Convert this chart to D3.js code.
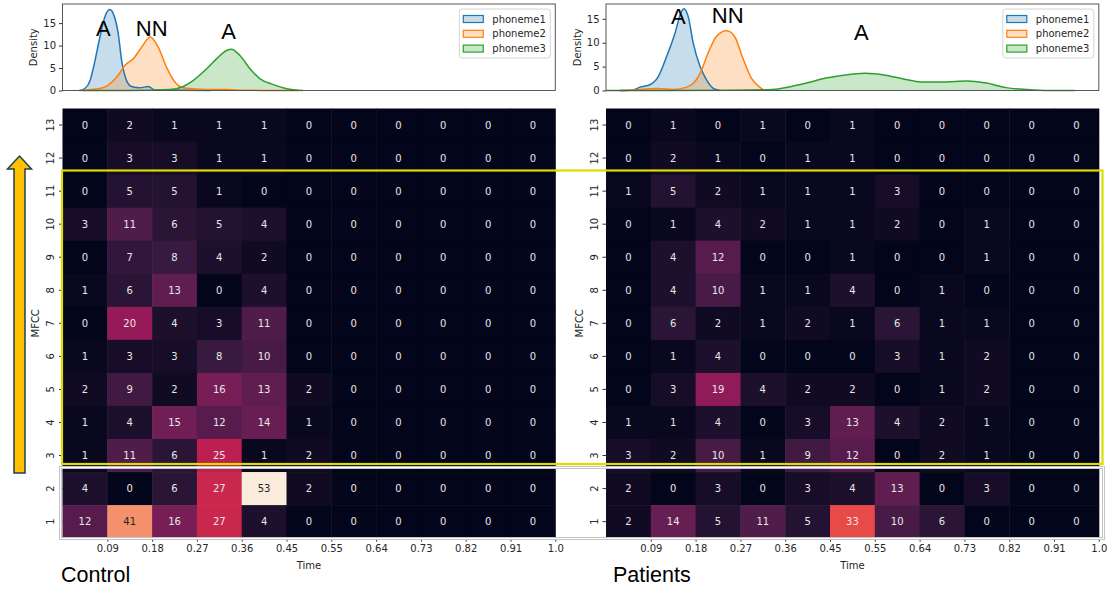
<!DOCTYPE html>
<html>
<head>
<meta charset="utf-8">
<script src="https://cdnjs.cloudflare.com/ajax/libs/d3/7.8.5/d3.min.js"></script>
<style>
  body { margin: 0; background: #fff; }
  svg text { font-family: "DejaVu Sans", sans-serif; }
</style>
</head>
<body>
<div id="container"></div>
<script>
/* DATA */
const mfccLabels = [13, 12, 11, 10, 9, 8, 7, 6, 5, 4, 3, 2, 1]
const timeLabels = ["0.09", "0.18", "0.27", "0.36", "0.45", "0.55", "0.64", "0.73", "0.82", "0.91", "1.0"]
const phonemes = ["phoneme1", "phoneme2", "phoneme3"]
const densityTicks = [0, 5, 10, 15]

// rows top (13) to bottom (1)
const controlCounts = [
    [0, 2, 1, 1, 1, 0, 0, 0, 0, 0, 0],
    [0, 3, 3, 1, 1, 0, 0, 0, 0, 0, 0],
    [0, 5, 5, 1, 0, 0, 0, 0, 0, 0, 0],
    [3, 11, 6, 5, 4, 0, 0, 0, 0, 0, 0],
    [0, 7, 8, 4, 2, 0, 0, 0, 0, 0, 0],
    [1, 6, 13, 0, 4, 0, 0, 0, 0, 0, 0],
    [0, 20, 4, 3, 11, 0, 0, 0, 0, 0, 0],
    [1, 3, 3, 8, 10, 0, 0, 0, 0, 0, 0],
    [2, 9, 2, 16, 13, 2, 0, 0, 0, 0, 0],
    [1, 4, 15, 12, 14, 1, 0, 0, 0, 0, 0],
    [1, 11, 6, 25, 1, 2, 0, 0, 0, 0, 0],
    [4, 0, 6, 27, 53, 2, 0, 0, 0, 0, 0],
    [12, 41, 16, 27, 4, 0, 0, 0, 0, 0, 0]
]
const patientCounts = [
    [0, 1, 0, 1, 0, 1, 0, 0, 0, 0, 0],
    [0, 2, 1, 0, 1, 1, 0, 0, 0, 0, 0],
    [1, 5, 2, 1, 1, 1, 3, 0, 0, 0, 0],
    [0, 1, 4, 2, 1, 1, 2, 0, 1, 0, 0],
    [0, 4, 12, 0, 0, 1, 0, 0, 1, 0, 0],
    [0, 4, 10, 1, 1, 4, 0, 1, 0, 0, 0],
    [0, 6, 2, 1, 2, 1, 6, 1, 1, 0, 0],
    [0, 1, 4, 0, 0, 0, 3, 1, 2, 0, 0],
    [0, 3, 19, 4, 2, 2, 0, 1, 2, 0, 0],
    [1, 1, 4, 0, 3, 13, 4, 2, 1, 0, 0],
    [3, 2, 10, 1, 9, 12, 0, 2, 1, 0, 0],
    [2, 0, 3, 0, 3, 4, 13, 0, 3, 0, 0],
    [2, 14, 5, 11, 5, 33, 10, 6, 0, 0, 0]
]

// density curves: [time, density]
const controlPh1 = [[0.034, 0], [0.046, 0.5], [0.056, 2.2], [0.063, 5.2], [0.076, 11.9], [0.086, 16.4], [0.096, 18.0],
    [0.103, 17.1], [0.113, 12.7], [0.120, 6.7], [0.130, 2.2], [0.140, 0.9], [0.157, 0.6], [0.174, 0.9], [0.188, 0.1], [0.30, 0]]
const controlPh2 = [[0.036, 0], [0.049, 0.1], [0.082, 0.6], [0.110, 3.0], [0.127, 5.6], [0.144, 7.1], [0.161, 9.7], [0.178, 11.9],
    [0.194, 9.7], [0.211, 5.2], [0.228, 1.9], [0.245, 0.6], [0.279, 0.3], [0.336, 0.2], [0.374, 0.05], [0.48, 0]]
const controlPh3 = [[0.04, 0], [0.130, 0], [0.218, 0.2], [0.245, 0.9], [0.265, 2.2], [0.293, 4.9], [0.313, 7.1], [0.333, 8.9],
    [0.343, 9.2], [0.360, 7.8], [0.380, 4.9], [0.401, 2.6], [0.428, 1.3], [0.455, 0.4], [0.488, 0]]
const patientPh1 = [[0.028, 0], [0.055, 0.1], [0.069, 0.7], [0.089, 1.2], [0.106, 2.9], [0.123, 7.1], [0.140, 12.0], [0.153, 16.5],
    [0.158, 17.1], [0.167, 15.4], [0.177, 9.9], [0.191, 5.0], [0.204, 2.2], [0.217, 0.5], [0.231, 0]]
const patientPh2 = [[0.030, 0], [0.055, 0.1], [0.103, 0.4], [0.136, 0.2], [0.164, 0.7], [0.177, 1.5], [0.191, 3.6], [0.207, 7.8],
    [0.224, 11.3], [0.245, 12.5], [0.261, 11.3], [0.278, 6.7], [0.295, 2.6], [0.312, 0.7], [0.322, 0]]
const patientPh3 = [[0.0, 0], [0.25, 0.05], [0.338, 0.2], [0.374, 0.8], [0.409, 1.6], [0.446, 2.6], [0.482, 3.2], [0.525, 3.6],
    [0.567, 3.2], [0.604, 2.4], [0.640, 1.8], [0.683, 1.8], [0.734, 2.0], [0.769, 1.6], [0.812, 0.6], [0.855, 0.2],
    [0.898, 0], [0.952, 0]]

const controlMarks = [{ text: "A", t: 0.083 }, { text: "NN", t: 0.181 }, { text: "A", t: 0.337 }]
const patientMarks = [{ text: "A", t: 0.147 }, { text: "NN", t: 0.247 }, { text: "A", t: 0.518 }]

/* CONSTANTS */
const width = 1110,
    height = 590,
    cellW = 44.8,
    cellH = 33.05,
    heatTop = 108.5,
    densTop = 4,
    densBottom = 90.5

const phonemeColors = ["#1f77b4", "#ff7f0e", "#2ca02c"]

// seaborn "rocket"
const colorScale = d3.scaleLinear()
    .domain([0, 0.143, 0.286, 0.429, 0.571, 0.714, 0.857, 1].map(d => d * 53))
    .range(["#03051a", "#35193e", "#701f57", "#ad1759", "#e13342", "#f37651", "#f6b48f", "#faebdd"])
    .interpolate(d3.interpolateRgb)

function luminance(c) {
    const rgb = d3.rgb(c)
    const f = v => { v = v / 255; return v <= 0.03928 ? v / 12.92 : Math.pow((v + 0.055) / 1.055, 2.4) }
    return 0.2126 * f(rgb.r) + 0.7152 * f(rgb.g) + 0.0722 * f(rgb.b)
}

const svg = d3.select("#container")
    .append("svg")
    .attr("width", width)
    .attr("height", height)

function drawPanel(cfg) {
    const x0 = cfg.x0,
        x1 = x0 + cellW * 11

    // DENSITY
    const xScale = d3.scaleLinear().domain([0, 1]).range([x0, x1])
    const yScale = d3.scaleLinear().domain([0, cfg.yMax]).range([densBottom, densTop])

    const dens = svg.append("g")
    const series = [cfg.ph1, cfg.ph2, cfg.ph3]
    const area = d3.area().x(d => xScale(d[0])).y0(yScale(0)).y1(d => yScale(d[1])).curve(d3.curveMonotoneX)
    const line = d3.line().x(d => xScale(d[0])).y(d => yScale(d[1])).curve(d3.curveMonotoneX)

    series.forEach((s, i) => {
        dens.append("path").attr("d", area(s)).attr("fill", phonemeColors[i]).attr("fill-opacity", 0.25)
    })
    series.forEach((s, i) => {
        dens.append("path").attr("d", line(s)).attr("fill", "none")
            .attr("stroke", phonemeColors[i]).attr("stroke-width", 1.5)
    })

    dens.append("rect")
        .attr("x", x0).attr("y", densTop)
        .attr("width", x1 - x0).attr("height", densBottom - densTop)
        .attr("fill", "none").attr("stroke", "#555").attr("stroke-width", 1)

    const yAxis = d3.axisLeft(yScale).tickValues(densityTicks).tickSize(3.5).tickPadding(3)
    const gy = dens.append("g").attr("transform", "translate(" + x0 + ",0)").call(yAxis)
    gy.select(".domain").remove()
    gy.selectAll("text").style("font-size", "10px").attr("fill", "#262626")
    gy.selectAll("line").attr("stroke", "#333")

    dens.append("text")
        .attr("transform", "translate(" + (x0 - 29) + "," + ((densTop + densBottom) / 2) + ") rotate(-90)")
        .attr("text-anchor", "middle").attr("dy", "0.35em")
        .style("font-size", "10px").attr("fill", "#262626")
        .text("Density")

    // phoneme letters
    dens.selectAll(".mark")
        .data(cfg.marks)
        .join("text")
        .attr("x", d => xScale(d.t))
        .attr("y", (d, i) => cfg.markY[i])
        .attr("text-anchor", "middle")
        .style("font-family", "'Liberation Sans', Arial, sans-serif")
        .style("font-size", "22px")
        .attr("fill", "#000")
        .text(d => d.text)

    // legend
    const lg = dens.append("g").attr("transform", "translate(" + (x1 - 96) + "," + (densTop + 5) + ")")
    lg.append("rect").attr("width", 91).attr("height", 49).attr("rx", 3)
        .attr("fill", "#fff").attr("fill-opacity", 0.8).attr("stroke", "#d4d4d4")
    phonemes.forEach((p, i) => {
        lg.append("rect").attr("x", 4).attr("y", 6.5 + i * 14.8).attr("width", 20).attr("height", 7)
            .attr("fill", d3.color(phonemeColors[i]).copy({ opacity: 0.25 }))
            .attr("stroke", phonemeColors[i]).attr("stroke-width", 1.2)
        lg.append("text").attr("x", 33).attr("y", 10 + i * 14.8).attr("dy", "0.35em")
            .style("font-size", "10px").attr("fill", "#262626").text(p)
    })

    // HEATMAP
    const xBand = d3.scaleBand().domain(d3.range(11)).range([x0, x1])
    const yBand = d3.scaleBand().domain(mfccLabels).range([heatTop, heatTop + cellH * 13])

    const cells = []
    cfg.counts.forEach((row, r) => row.forEach((v, c) => cells.push({ r: mfccLabels[r], c: c, v: v })))

    const hm = svg.append("g")
    hm.selectAll("rect.cell")
        .data(cells)
        .join("rect")
        .attr("class", "cell")
        .attr("x", d => xBand(d.c))
        .attr("y", d => yBand(d.r))
        .attr("width", xBand.bandwidth() + 0.5)
        .attr("height", yBand.bandwidth() + 0.5)
        .attr("fill", d => colorScale(d.v))

    hm.selectAll("text.val")
        .data(cells)
        .join("text")
        .attr("class", "val")
        .attr("x", d => xBand(d.c) + xBand.bandwidth() / 2)
        .attr("y", d => yBand(d.r) + yBand.bandwidth() / 2)
        .attr("dy", "0.35em")
        .attr("text-anchor", "middle")
        .style("font-size", "10px")
        .attr("fill", d => luminance(colorScale(d.v)) > 0.3 ? "#262626" : "#e8e8e8")
        .text(d => d.v)

    // x ticks at cell boundaries
    const xTick = d3.scaleOrdinal().domain(timeLabels).range(timeLabels.map((t, i) => x0 + cellW * (i + 1)))
    const xAxis = d3.axisBottom(xTick).tickSize(3.5).tickPadding(3)
    const bottom = heatTop + cellH * 13
    const gx = hm.append("g").attr("transform", "translate(0," + bottom + ")").call(xAxis)
    gx.select(".domain").remove()
    gx.selectAll("text").style("font-size", "10px").attr("fill", "#262626")
    gx.selectAll("line").attr("stroke", "#333")

    const yAxis2 = d3.axisLeft(yBand).tickSize(3.5).tickPadding(3)
    const gy2 = hm.append("g").attr("transform", "translate(" + x0 + ",0)").call(yAxis2)
    gy2.select(".domain").remove()
    gy2.selectAll("line").attr("stroke", "#333")
    gy2.selectAll("text")
        .style("font-size", "10px").attr("fill", "#262626")
        .attr("text-anchor", "middle")
        .attr("x", null).attr("dy", null)
        .attr("transform", "translate(-12,0) rotate(-90)")
        .attr("dy", "0.35em")

    hm.append("text")
        .attr("x", (x0 + x1) / 2).attr("y", bottom + 27)
        .attr("text-anchor", "middle").attr("dy", "0.35em")
        .style("font-size", "10px").attr("fill", "#262626")
        .text("Time")

    hm.append("text")
        .attr("transform", "translate(" + (x0 - 27) + "," + (heatTop + cellH * 6.5) + ") rotate(-90)")
        .attr("text-anchor", "middle").attr("dy", "0.35em")
        .style("font-size", "10px").attr("fill", "#262626")
        .text("MFCC")

    svg.append("text")
        .attr("x", cfg.titleX).attr("y", 582)
        .style("font-family", "'Liberation Sans', Arial, sans-serif")
        .style("font-size", "21.5px")
        .attr("fill", "#000")
        .text(cfg.title)
}

drawPanel({
    x0: 62.5, yMax: 19.25, ph1: controlPh1, ph2: controlPh2, ph3: controlPh3,
    marks: controlMarks, markY: [36, 36, 39], counts: controlCounts, title: "Control", titleX: 61
})
drawPanel({
    x0: 606, yMax: 18.1, ph1: patientPh1, ph2: patientPh2, ph3: patientPh3,
    marks: patientMarks, markY: [23.5, 23, 40], counts: patientCounts, title: "Patients", titleX: 613
})

// ANNOTATIONS
// grey/white box around MFCC 1-2
svg.append("rect")
    .attr("x", 60.5).attr("y", 467.5).attr("width", 1043).attr("height", 71)
    .attr("fill", "none").attr("stroke", "#c4c4c4").attr("stroke-width", 3)
svg.append("rect")
    .attr("x", 60.5).attr("y", 467.5).attr("width", 1043).attr("height", 71)
    .attr("fill", "none").attr("stroke", "#fff").attr("stroke-width", 1)

// yellow box MFCC 3-11
svg.append("rect")
    .attr("x", 62).attr("y", 170.5).attr("width", 1040.5).attr("height", 293.5)
    .attr("fill", "none").attr("stroke", "#dcdc00").attr("stroke-width", 2.2)

// arrow
const arrowPts = [[14, 473], [25, 473], [25, 169], [31.5, 169], [19.5, 156], [7.5, 169], [14, 169]]
svg.append("path")
    .attr("d", d3.line()(arrowPts) + "Z")
    .attr("fill", "#ffc000")
    .attr("stroke", "#1f3f55")
    .attr("stroke-width", 1.5)
</script>
</body>
</html>
